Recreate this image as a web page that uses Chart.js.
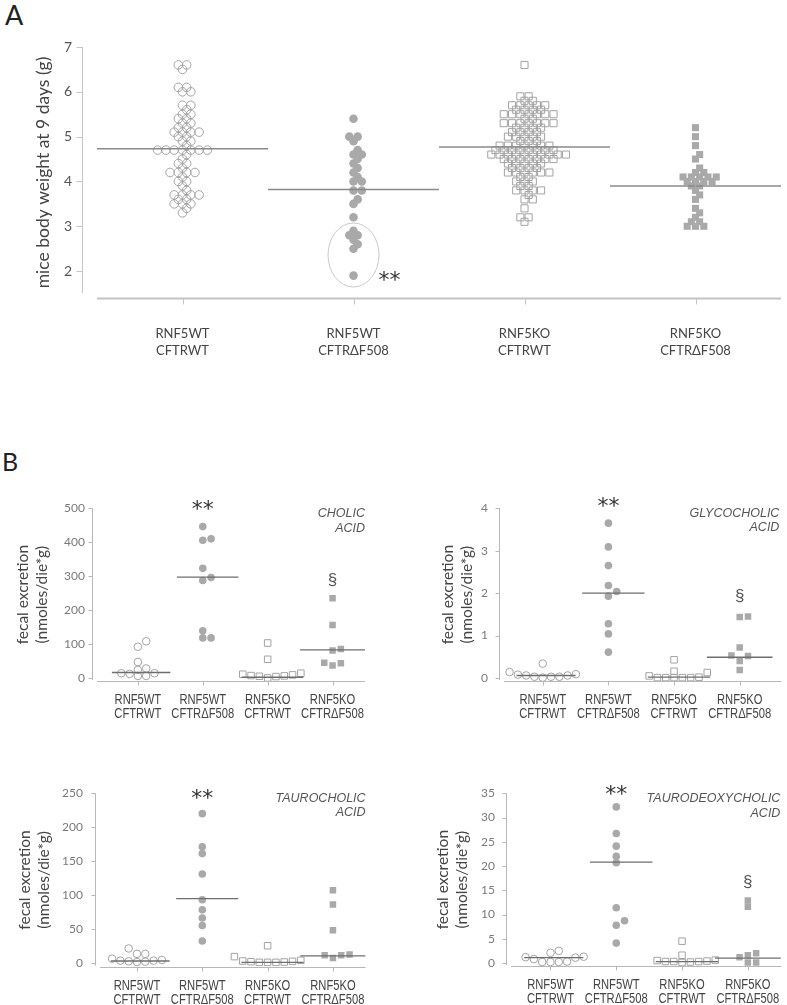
<!DOCTYPE html>
<html>
<head>
<meta charset="utf-8">
<script src="https://cdn.jsdelivr.net/npm/chart.js@4"></script>
<style>
  body { margin: 0; background: #fff; width: 787px; height: 1005px; position: relative; overflow: hidden; }
  canvas { position: absolute; }
  .panel { position: absolute; font-family: Lato, "Open Sans", sans-serif; color: #222; }
</style>
</head>
<body>
<div class="panel" style="left:5px;top:-2px;font-size:27px">A</div>
<div class="panel" style="left:2px;top:446px;font-size:25px">B</div>
<canvas id="chartA" width="787" height="400" style="left:0;top:0"></canvas>
<canvas id="chartB1" width="395" height="290" style="left:0;top:470px"></canvas>
<canvas id="chartB2" width="392" height="290" style="left:395px;top:470px"></canvas>
<canvas id="chartB3" width="395" height="245" style="left:0;top:760px"></canvas>
<canvas id="chartB4" width="392" height="245" style="left:395px;top:760px"></canvas>
<script>
// groups on the x axis
const groupLabels = [
  ['RNF5WT', 'CFTRWT'],
  ['RNF5WT', 'CFTRΔF508'],
  ['RNF5KO', 'CFTRWT'],
  ['RNF5KO', 'CFTRΔF508'],
];

// A - body weight at 9 days (g)
const weightWTWT = [6.6,6.6,6.5,6.1,6.1,6.0,6.0,5.7,5.7,5.6,5.5,5.5,5.4,5.4,5.3,5.3,5.2,5.2,5.1,5.1,5.1,5.1,5.0,5.0,4.9,4.9,4.8,
  4.7,4.7,4.7,4.7,4.7,4.7,4.7,4.6,4.5,4.4,4.4,4.3,4.2,4.2,4.2,4.2,4.1,4.0,4.0,3.9,3.8,3.7,3.7,3.7,3.7,3.6,3.6,3.5,3.5,3.5,3.4,3.3];
const weightWTdF = [5.4,5.0,5.0,4.9,4.7,4.6,4.6,4.5,4.4,4.3,4.2,4.1,4.0,4.0,3.8,3.8,3.6,3.5,3.2,2.9,2.8,2.8,2.7,2.6,2.5,1.9];
const weightKOWT = [6.6,5.9,5.9,5.8,5.8,5.7,5.7,5.7,5.7,5.7,5.6,5.6,5.6,5.6,5.5,5.5,5.5,5.5,5.5,5.5,5.5,5.4,5.4,
  5.3,5.3,5.3,5.3,5.3,5.3,5.3,5.2,5.2,5.2,5.2,5.1,5.1,5.1,5.1,5.0,5.0,5.0,5.0,5.0,4.9,4.9,4.9,
  4.8,4.8,4.8,4.8,4.8,4.8,4.8,4.7,4.7,4.7,4.7,4.7,4.7,4.7,4.7,4.6,4.6,4.6,4.6,4.6,4.6,4.6,4.6,4.6,4.6,
  4.5,4.5,4.5,4.5,4.5,4.5,4.5,4.4,4.4,4.4,4.4,4.4,4.3,4.3,4.3,4.3,4.2,4.2,4.2,4.2,4.2,4.2,4.1,4.1,
  4.0,4.0,4.0,3.9,3.9,3.8,3.8,3.8,3.8,3.7,3.6,3.6,3.4,3.2,3.2,3.1];
const weightKOdF = [5.2,5.0,4.8,4.6,4.5,4.3,4.2,4.2,4.1,4.1,4.1,4.1,4.1,4.0,4.0,4.0,4.0,3.9,3.9,3.8,3.7,3.6,3.4,3.3,3.2,3.1,3.1,3.0,3.0,3.0];
const weightMean = [4.73, 3.82, 4.77, 3.90];
const weightTicks = [2, 3, 4, 5, 6, 7];

// B - fecal excretion (nmoles/die*g)
const cholicWTWT = [6,12,24,92,108,47,14,6,14,28];
const cholicWTdF = [446,410,406,323,287,296,139,118,118];
const cholicKOWT = [103,55,6,0,11,4,7,14,9,5];
const cholicKOdF = [235,156,81,85,45,37,43];
const cholicMedian = [16, 297, 2, 83];
const cholicTicks = [0, 100, 200, 300, 400, 500];

const glycoWTWT = [0.14,0.01,0.34,0.03,0.03,0.08,0.06,0.09,0.03,0.06];
const glycoWTdF = [3.65,3.09,2.65,2.18,2.04,1.93,1.28,1.04,0.61];
const glycoKOWT = [0.01,0.05,0.01,0.16,0.43,0.01,0.02,0.01,0.13,0.01];
const glycoKOdF = [1.45,1.44,0.72,0.52,0.53,0.40,0.19];
const glycoMedian = [0.06, 2.0, 0.02, 0.49];
const glycoTicks = [0, 1, 2, 3, 4];

const tauroWTWT = [1,13,3,2,3,21,6,13,1.5,4];
const tauroWTdF = [220,171,161,131,93,78,66,55,32];
const tauroKOWT = [1,0.5,0.5,0.5,2.5,25,2,1.5,9,3.5];
const tauroKOdF = [107,86,48,7,11,11,12];
const tauroMedian = [2.5, 94.5, 0.5, 10];
const tauroTicks = [0, 50, 100, 150, 200, 250];

const tdcWTWT = [2.1,0.3,0.2,0.2,2.5,1.2,0.8,1.3,0.2,1.1];
const tdcWTdF = [32.2,26.7,24.1,22.0,20.7,11.4,7.8,8.7,4.1];
const tdcKOWT = [0.3,0.2,0.3,0.5,4.5,0.4,0.1,0.3,1.6,0.6];
const tdcKOdF = [12.9,11.6,1.6,2.0,0.1,0.1,1.2];
const tdcMedian = [1.1, 20.8, 0.3, 1.0];
const tdcTicks = [0, 5, 10, 15, 20, 25, 30, 35];

const OPEN = 'rgba(0,0,0,0)';
const GREY = '#a9a9a9';
const EDGE = '#a3a3a3';

// draws the offset axes, ellipse, condensed group labels and text notes
const decor = {
  id: 'decor',
  beforeDatasetsDraw(chart, args, o) {
    const { ctx, chartArea: a, scales: { x, y } } = chart;
    ctx.save();
    const yx = Math.round(a.left - o.yGap) + 0.5;
    ctx.strokeStyle = o.axisColor;
    ctx.lineWidth = 1;
    ctx.beginPath();
    ctx.moveTo(yx, y.getPixelForValue(y.max));
    ctx.lineTo(yx, a.bottom - o.yInset);
    y.ticks.forEach(t => {
      const py = Math.round(y.getPixelForValue(t.value)) + 0.5;
      ctx.moveTo(yx - o.tickLen, py);
      ctx.lineTo(yx, py);
    });
    ctx.stroke();
    ctx.lineWidth = o.xWidth;
    ctx.beginPath();
    const by = Math.round(a.bottom) + 0.5;
    ctx.moveTo(a.left, by);
    ctx.lineTo(a.right, by);
    ctx.stroke();
    ctx.lineWidth = 1;
    ctx.beginPath();
    x.ticks.forEach(t => {
      const px = Math.round(x.getPixelForValue(t.value)) + 0.5;
      ctx.moveTo(px, by);
      ctx.lineTo(px, by + o.tickLen);
    });
    ctx.stroke();
    (o.ellipses || []).forEach(e => {
      ctx.strokeStyle = e.color;
      ctx.beginPath();
      ctx.ellipse(x.getPixelForValue(e.x), y.getPixelForValue(e.y), e.rx, e.ry, 0, 0, Math.PI * 2);
      ctx.stroke();
    });
    if (o.labels) {
      const L = o.labels;
      ctx.font = L.font;
      ctx.fillStyle = L.color;
      ctx.textAlign = 'center';
      ctx.textBaseline = 'middle';
      x.ticks.forEach(t => {
        groupLabels[t.value].forEach((line, i) => {
          ctx.save();
          ctx.translate(x.getPixelForValue(t.value), a.bottom + L.first + i * L.lineGap);
          ctx.scale(L.condense, 1);
          ctx.fillText(line, 0, 0);
          ctx.restore();
        });
      });
    }
    ctx.restore();
  },
  afterDatasetsDraw(chart, args, o) {
    const { ctx, scales: { x, y } } = chart;
    ctx.save();
    (o.notes || []).forEach(n => {
      ctx.font = n.font;
      ctx.fillStyle = n.color || '#333';
      ctx.textAlign = n.align || 'center';
      ctx.textBaseline = 'middle';
      ctx.fillText(n.text, x.getPixelForValue(n.x) + (n.dx || 0), y.getPixelForValue(n.y) + (n.dy || 0));
    });
    ctx.restore();
  }
};

// spread the points of each group sideways (half-step swarm)
function swarm(chart, step, sameTol, nearTol) {
  const { x, y } = chart.scales;
  const unit = x.getPixelForValue(1) - x.getPixelForValue(0);
  chart.data.datasets.forEach(ds => {
    if (ds.group === undefined) return;
    const placed = [];
    const order = ds.data.map((p, i) => i).sort((a, b) => ds.data[a].y - ds.data[b].y);
    order.forEach(i => {
      const py = y.getPixelForValue(ds.data[i].y);
      for (let k = 0; k < 200; k++) {
        const off = (k % 2 ? (k + 1) / 2 : -k / 2) * 0.5;
        const hit = placed.some(p => {
          const dy = Math.abs(p.py - py), dx = Math.abs(p.off - off);
          return (dy < sameTol && dx < 0.9) || (dy < nearTol && dx < 0.45);
        });
        if (!hit) {
          placed.push({ py, off });
          ds.data[i].x = ds.group + off * step / unit;
          break;
        }
      }
    });
  });
  chart.update('none');
}

function makeChart(c) {
  const datasets = [];
  c.series.forEach((vals, g) => {
    const st = c.styles[g];
    datasets.push({
      group: g,
      data: vals.map(v => ({ x: g, y: v })),
      pointStyle: st.shape,
      pointRadius: st.shape === 'rect' ? c.rectR : c.circleR,
      backgroundColor: st.fill,
      borderColor: st.fill === OPEN ? EDGE : GREY,
      borderWidth: st.fill === OPEN ? 1 : 0,
      order: 2
    });
    datasets.push({
      data: [{ x: g + c.lineFrom[g], y: c.centers[g] }, { x: g + c.lineTo[g], y: c.centers[g] }],
      showLine: true,
      pointRadius: 0,
      borderColor: c.lineColor,
      borderWidth: c.lineWidth,
      order: 1
    });
  });
  const b = c.box, a = c.area;
  const chart = new Chart(document.getElementById(c.id), {
    type: 'scatter',
    data: { datasets },
    options: {
      responsive: false,
      animation: false,
      devicePixelRatio: 1,
      events: [],
      layout: { padding: { left: 0, top: a.top - b.top, right: b.left + b.width - a.right, bottom: 0 } },
      plugins: {
        legend: { display: false },
        tooltip: { enabled: false },
        decor: c.decor
      },
      scales: {
        x: {
          type: 'linear',
          min: c.xMin, max: c.xMax,
          grid: { display: false, drawTicks: false },
          border: { display: false },
          afterBuildTicks: s => { s.ticks = [0, 1, 2, 3].map(v => ({ value: v })); },
          afterFit: s => { s.height = b.top + b.height - a.bottom; },
          ticks: {
            display: c.xTickText,
            autoSkip: false, maxRotation: 0,
            padding: c.xPad,
            color: c.xColor,
            font: c.xFont,
            callback: v => groupLabels[v]
          }
        },
        y: {
          min: c.yMin, max: c.yMax,
          grid: { display: false, drawTicks: false },
          border: { display: false },
          afterBuildTicks: s => { s.ticks = c.yTicks.map(v => ({ value: v })); },
          afterFit: s => { s.width = a.left - b.left; },
          ticks: { padding: c.yPad, color: c.yColor, font: c.yFont },
          title: {
            display: true,
            text: c.title,
            color: '#444',
            font: c.titleFont,
            padding: { top: c.titleX - b.left - c.titleFont.size * c.titleFont.lineHeight / 2, bottom: 0 }
          }
        }
      }
    },
    plugins: [decor]
  });
  swarm(chart, c.step, c.sameTol, c.nearTol);
  return chart;
}

const styleSet = [
  { shape: 'circle', fill: OPEN },
  { shape: 'circle', fill: GREY },
  { shape: 'rect', fill: OPEN },
  { shape: 'rect', fill: GREY },
];
const bNote = '22px "DejaVu Sans", sans-serif';
const bItalic = 'italic 12.5px "Liberation Sans", Arial, sans-serif';
const bSect = '17px "Liberation Sans", sans-serif';
const bLabels = { font: '14px "Liberation Sans", Arial, sans-serif', color: '#444', condense: 0.8, first: 19.5, lineGap: 13.6 };
const bBase = {
  styles: styleSet,
  circleR: 3.8, rectR: 4.6,
  step: 8.3, sameTol: 6, nearTol: 6,
  lineFrom: [-0.4, -0.4, -0.4, -0.5], lineTo: [0.5, 0.55, 0.55, 0.5],
  lineColor: '#6e6e6e', lineWidth: 1.3,
  xTickText: false, xPad: 12, xColor: '#444', xFont: { size: 13 },
  yColor: '#7a7a7a', yFont: { family: 'Lato, sans-serif', size: 12 },
  title: ['fecal excretion', '(nmoles/die*g)'],
  titleFont: { family: 'Lato, sans-serif', size: 15.5, lineHeight: 1.23 },
};
function bDecor(notes) {
  return {
    yGap: 5, yInset: 1, tickLen: 4, xWidth: 1, axisColor: '#b8b8b8',
    labels: bLabels,
    notes: notes
  };
}

makeChart({
  id: 'chartA',
  box: { left: 0, top: 0, width: 787, height: 400 },
  area: { left: 97, top: 47, right: 783, bottom: 298 },
  xMin: -0.5, xMax: 3.5, yMin: 1.4, yMax: 7, yTicks: weightTicks,
  series: [weightWTWT, weightWTdF, weightKOWT, weightKOdF],
  centers: weightMean,
  styles: styleSet,
  circleR: 4.3, rectR: 5,
  step: 8.3, sameTol: 3, nearTol: 6,
  lineFrom: [-0.5, -0.5, -0.5, -0.5], lineTo: [0.5, 0.5, 0.5, 0.5],
  lineColor: '#8a8a8a', lineWidth: 1.6,
  xTickText: true, xPad: 27, xColor: '#444', xFont: { family: 'Lato, sans-serif', size: 13, lineHeight: 1.3 },
  yPad: 25, yColor: '#555', yFont: { family: 'Lato, sans-serif', size: 14 },
  title: 'mice body weight at 9 days (g)', titleX: 43,
  titleFont: { family: 'Lato, sans-serif', size: 17.5, lineHeight: 1.2 },
  decor: {
    yGap: 15, yInset: 5, tickLen: 6, xWidth: 2, axisColor: '#c4c4c4',
    ellipses: [{ x: 1, y: 2.36, rx: 25.5, ry: 32, color: '#c8c8c8' }],
    notes: [{ text: '**', x: 1.21, y: 1.93, dy: 7, font: '22px "DejaVu Sans", sans-serif', color: '#333' }]
  }
});

makeChart(Object.assign({}, bBase, {
  id: 'chartB1',
  box: { left: 0, top: 470, width: 395, height: 290 },
  area: { left: 97, top: 508.3, right: 365, bottom: 681 },
  xMin: -0.63, xMax: 3.5, yMin: -9, yMax: 500, yTicks: cholicTicks,
  series: [cholicWTWT, cholicWTdF, cholicKOWT, cholicKOdF],
  centers: cholicMedian, yPad: 12, titleX: 23,
  decor: bDecor([
    { text: '**', x: 1, y: 516, dy: 7, font: bNote, color: '#333' },
    { text: '§', x: 3, y: 289, font: bSect, color: '#555' },
    { text: 'CHOLIC', x: 3.5, y: 486, align: 'right', font: bItalic, color: '#555' },
    { text: 'ACID', x: 3.5, y: 439, align: 'right', font: bItalic, color: '#555' },
  ])
}));

makeChart(Object.assign({}, bBase, {
  id: 'chartB2',
  box: { left: 395, top: 470, width: 392, height: 290 },
  area: { left: 504, top: 508.3, right: 785, bottom: 681 },
  xMin: -0.59, xMax: 3.635, yMin: -0.07, yMax: 4, yTicks: glycoTicks,
  series: [glycoWTWT, glycoWTdF, glycoKOWT, glycoKOdF],
  centers: glycoMedian, yPad: 16, titleX: 448,
  decor: bDecor([
    { text: '**', x: 1, y: 4.18, dy: 7, font: bNote, color: '#333' },
    { text: '§', x: 3, y: 1.93, font: bSect, color: '#555' },
    { text: 'GLYCOCHOLIC', x: 3.635, y: 3.87, dx: -2, align: 'right', font: bItalic, color: '#555' },
    { text: 'ACID', x: 3.635, y: 3.54, dx: -2, align: 'right', font: bItalic, color: '#555' },
  ])
}));

makeChart(Object.assign({}, bBase, {
  id: 'chartB3',
  box: { left: 0, top: 760, width: 395, height: 245 },
  area: { left: 100, top: 793.3, right: 365.6, bottom: 966.7 },
  xMin: -0.566, xMax: 3.5, yMin: -5.9, yMax: 250, yTicks: tauroTicks,
  series: [tauroWTWT, tauroWTdF, tauroKOWT, tauroKOdF],
  centers: tauroMedian, yPad: 17, titleX: 25,
  decor: bDecor([
    { text: '**', x: 1, y: 252, dy: 7, font: bNote, color: '#333' },
    { text: 'TAUROCHOLIC', x: 3.5, y: 243, align: 'right', font: bItalic, color: '#555' },
    { text: 'ACID', x: 3.5, y: 221, align: 'right', font: bItalic, color: '#555' },
  ])
}));

makeChart(Object.assign({}, bBase, {
  id: 'chartB4',
  box: { left: 395, top: 760, width: 392, height: 245 },
  area: { left: 511, top: 793.3, right: 785, bottom: 966 },
  xMin: -0.6, xMax: 3.51, yMin: -0.62, yMax: 35, yTicks: tdcTicks,
  series: [tdcWTWT, tdcWTdF, tdcKOWT, tdcKOdF],
  centers: tdcMedian, yPad: 16, titleX: 443,
  decor: bDecor([
    { text: '**', x: 1, y: 36.1, dy: 7, font: bNote, color: '#333' },
    { text: '§', x: 3, y: 16.6, font: bSect, color: '#555' },
    { text: 'TAURODEOXYCHOLIC', x: 3.51, y: 34.0, dx: -1, align: 'right', font: bItalic, color: '#555' },
    { text: 'ACID', x: 3.51, y: 30.9, dx: -1, align: 'right', font: bItalic, color: '#555' },
  ])
}));
</script>
</body>
</html>
